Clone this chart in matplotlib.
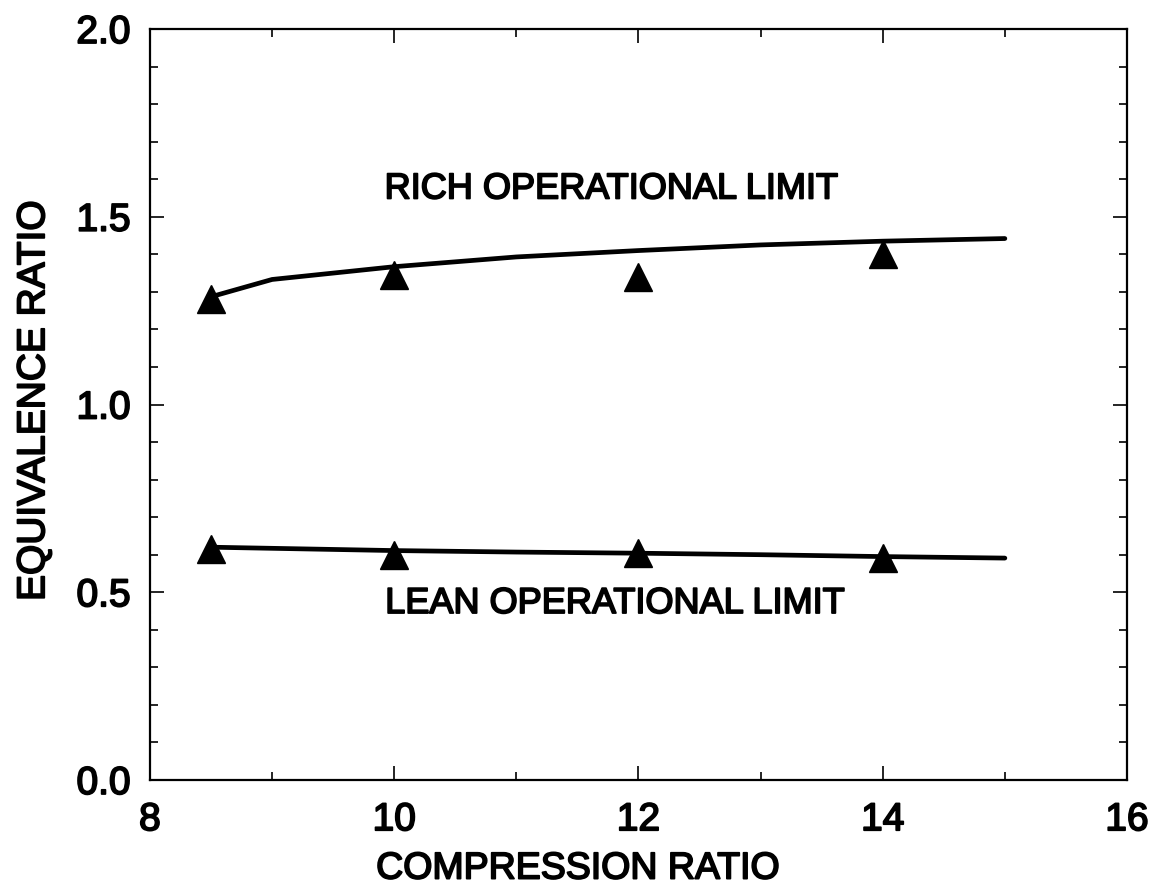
import matplotlib
matplotlib.use("Agg")
import matplotlib.pyplot as plt
import matplotlib.patheffects as pe
from matplotlib.ticker import MultipleLocator

plt.rcParams['font.family'] = ['Liberation Sans Narrow', 'Liberation Sans', 'DejaVu Sans']

# Data
cr_points = [8.5, 10, 12, 14]
rich_points = [1.28, 1.345, 1.34, 1.40]
lean_points = [0.615, 0.60, 0.605, 0.59]

cr_curve = [8.5, 9, 10, 11, 12, 13, 14, 15]
rich_curve = [1.287, 1.333, 1.367, 1.393, 1.41, 1.425, 1.435, 1.442]
lean_curve = [0.620, 0.617, 0.611, 0.607, 0.604, 0.600, 0.595, 0.591]

x_ticks = [8, 10, 12, 14, 16]
y_ticks = [0.0, 0.5, 1.0, 1.5, 2.0]

bold_fx = [pe.withStroke(linewidth=1.3, foreground='black')]

fig = plt.figure(figsize=(11.5, 8.9), dpi=100)
ax = fig.add_axes([0.1304, 0.1236, 0.8496, 0.8438])

ax.plot(cr_curve, rich_curve, color='black', lw=3.4, solid_capstyle='round')
ax.plot(cr_curve, lean_curve, color='black', lw=3.4, solid_capstyle='round')
ax.plot(cr_points, rich_points, linestyle='none', marker='^', ms=20, color='black')
ax.plot(cr_points, lean_points, linestyle='none', marker='^', ms=20, color='black')

ax.set_xlim(8, 16)
ax.set_ylim(0, 2.0)
ax.set_xticks(x_ticks)
ax.set_yticks(y_ticks)
ax.set_xticklabels([str(v) for v in x_ticks])
ax.set_yticklabels([f"{v:.1f}" for v in y_ticks])
ax.xaxis.set_minor_locator(MultipleLocator(1))
ax.yaxis.set_minor_locator(MultipleLocator(0.1))
ax.tick_params(which='both', direction='in', top=True, right=True, width=1.2)
ax.tick_params(which='major', length=10, labelsize=28)
ax.tick_params(axis='x', which='major', pad=16)
ax.tick_params(axis='y', which='major', pad=14)
ax.tick_params(which='minor', length=6)
for lbl in ax.get_xticklabels() + ax.get_yticklabels():
    lbl.set_path_effects(bold_fx)
for sp in ax.spines.values():
    sp.set_linewidth(1.6)

xl = ax.set_xlabel('COMPRESSION RATIO', fontsize=27)
ax.xaxis.set_label_coords(0.438, -0.094)
yl = ax.set_ylabel('EQUIVALENCE RATIO', fontsize=28)
ax.yaxis.set_label_coords(-0.100, 0.505)
xl.set_path_effects(bold_fx)
yl.set_path_effects(bold_fx)

t1 = ax.text(11.78, 1.574, 'RICH OPERATIONAL LIMIT', fontsize=26, ha='center', va='center')
t2 = ax.text(11.81, 0.47, 'LEAN OPERATIONAL LIMIT', fontsize=26, ha='center', va='center')
t1.set_path_effects(bold_fx)
t2.set_path_effects(bold_fx)

fig.savefig('out.png', dpi=100)
